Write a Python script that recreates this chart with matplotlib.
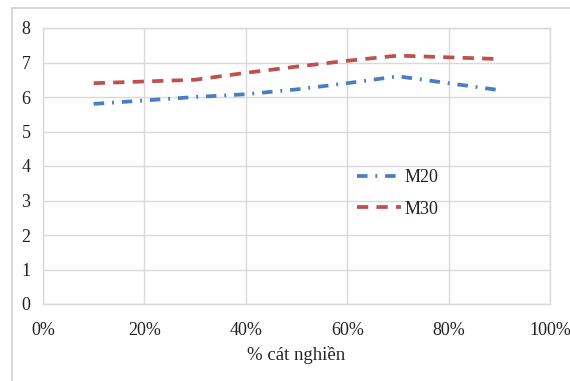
import matplotlib
matplotlib.use("Agg")
import matplotlib.pyplot as plt
from matplotlib.patches import Rectangle
from matplotlib.ticker import FuncFormatter

x_pct = [10, 20, 30, 40, 50, 60, 70, 80, 90]
m20 = [5.8, 5.9, 6.0, 6.08, 6.22, 6.4, 6.6, 6.4, 6.2]
m30 = [6.4, 6.45, 6.5, 6.7, 6.88, 7.05, 7.2, 7.15, 7.1]
series_names = ["M20", "M30"]
x_label = "% cát nghiền"

plt.rcParams['font.family'] = ['Liberation Serif', 'DejaVu Serif']

W, H = 570, 381
fig = plt.figure(figsize=(W/100, H/100), dpi=100)
fig.patch.set_facecolor('white')

# outer chart border (cropped)
fig.add_artist(Rectangle((12/W, -0.1), 1.2, (H-8)/H + 0.1, transform=fig.transFigure,
                         fill=False, edgecolor='#d0d0d0', linewidth=1.2))

ax = fig.add_axes([43/W, 1-304/H, (550-43)/W, (304-28)/H])
blue = '#4a7ebf'
red = '#c0504d'
ax.plot(x_pct, m20, color=blue, lw=2.7, linestyle=(0, (2.8, 2.1, 0.5, 2.1)),
        dash_capstyle='butt', label=series_names[0])
ax.plot(x_pct, m30, color=red, lw=2.7, linestyle=(0, (3.0, 2.2)),
        dash_capstyle='butt', label=series_names[1])

ax.set_xlim(0, 100)
ax.set_ylim(0, 8)
ax.set_xticks(range(0, 101, 20))
ax.set_yticks(range(0, 9))
ax.xaxis.set_major_formatter(FuncFormatter(lambda v, p: f"{int(v)}%"))
ax.grid(True, color='#d9d9d9', lw=1.0)
ax.set_axisbelow(True)
for s in ax.spines.values():
    s.set_color('#d9d9d9')
    s.set_linewidth(1.0)
ax.tick_params(length=0, labelsize=13, colors='#222222')
ax.tick_params(axis='y', pad=9)
ax.tick_params(axis='x', pad=13)
ax.set_xlabel(x_label, fontsize=13.5, labelpad=5, color='#222222')

leg = ax.legend(loc='center left', bbox_to_anchor=(341/W, 1-193.5/H),
                bbox_transform=fig.transFigure, frameon=False, fontsize=13,
                handlelength=2.45, handletextpad=0.15, labelspacing=0.8)
for t in leg.get_texts():
    t.set_color('#222222')

fig.savefig('out.png', dpi=100)
